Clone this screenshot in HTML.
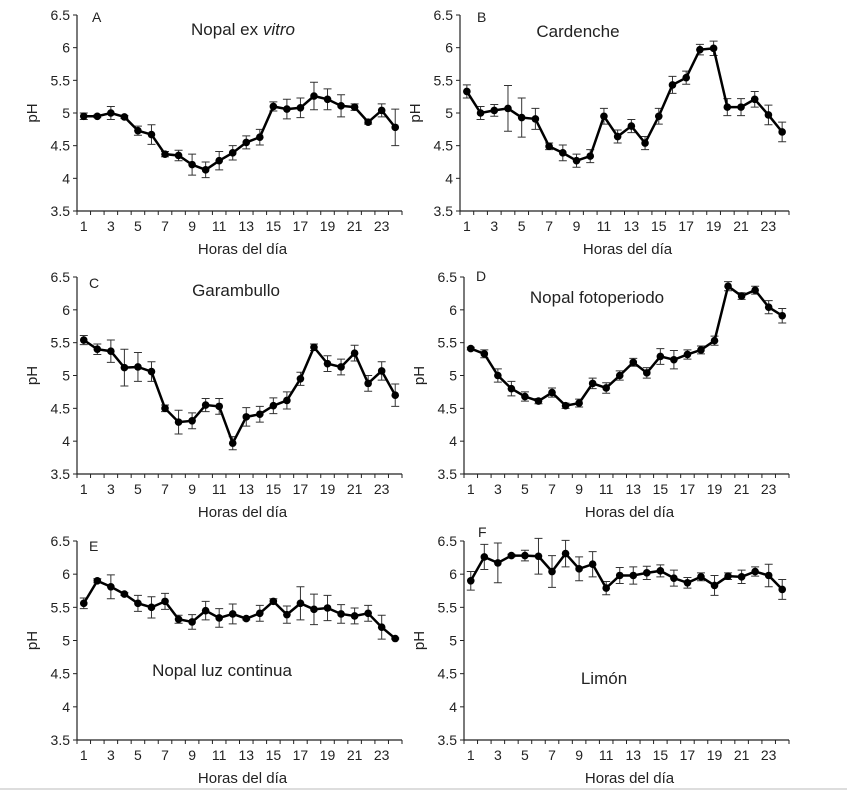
<!DOCTYPE html>
<html><head><meta charset="utf-8"><style>
html,body{margin:0;padding:0;background:#fff;}
svg{display:block;font-family:"Liberation Sans","DejaVu Sans",sans-serif;}
</style></head><body>
<svg id="fig" width="847" height="791" viewBox="0 0 847 791">
<line x1="0" y1="789" x2="847" y2="789" stroke="#bbb" stroke-width="1"/>
</svg>
<script>
const hours = [1,2,3,4,5,6,7,8,9,10,11,12,13,14,15,16,17,18,19,20,21,22,23,24];
const yTicks = [3.5,4,4.5,5,5.5,6,6.5];
const yTickLabels = ["3.5","4","4.5","5","5.5","6","6.5"];
const xTickLabels = ["1","3","5","7","9","11","13","15","17","19","21","23"];
const valsA = [4.95,4.95,5.0,4.94,4.73,4.67,4.37,4.35,4.21,4.13,4.27,4.39,4.55,4.63,5.1,5.06,5.08,5.26,5.21,5.11,5.09,4.86,5.04,4.78];
const errA = [.05,.02,.1,.02,.07,.15,.04,.08,.16,.12,.14,.11,.1,.12,.07,.15,.15,.21,.16,.17,.05,.03,.1,.28];
const valsB = [5.33,5.0,5.04,5.07,4.93,4.91,4.49,4.39,4.27,4.34,4.95,4.64,4.8,4.54,4.95,5.43,5.54,5.97,5.99,5.09,5.09,5.21,4.97,4.71];
const errB = [.1,.1,.09,.35,.3,.16,.05,.12,.1,.1,.12,.1,.1,.1,.12,.13,.1,.08,.11,.13,.13,.12,.15,.15];
const valsC = [5.54,5.4,5.37,5.12,5.13,5.06,4.5,4.29,4.31,4.55,4.53,3.97,4.37,4.41,4.54,4.62,4.95,5.43,5.18,5.13,5.34,4.88,5.07,4.7];
const errC = [.07,.08,.17,.28,.22,.15,.05,.18,.12,.1,.12,.1,.14,.12,.12,.13,.1,.05,.12,.12,.12,.12,.14,.17];
const valsD = [5.41,5.33,5.0,4.8,4.68,4.61,4.74,4.54,4.58,4.88,4.81,5.0,5.2,5.04,5.29,5.24,5.32,5.39,5.53,6.36,6.21,6.3,6.04,5.91];
const errD = [.02,.06,.1,.11,.07,.04,.07,.04,.06,.08,.08,.07,.06,.08,.12,.14,.07,.06,.07,.07,.05,.06,.1,.11];
const valsE = [5.56,5.9,5.81,5.7,5.56,5.5,5.59,5.32,5.28,5.45,5.34,5.4,5.33,5.41,5.59,5.39,5.56,5.47,5.49,5.4,5.37,5.41,5.2,5.03];
const errE = [.08,.03,.18,.02,.12,.16,.12,.06,.11,.14,.14,.15,.02,.12,.04,.13,.25,.23,.19,.14,.12,.12,.18,.01];
const valsF = [5.9,6.26,6.17,6.28,6.28,6.27,6.04,6.31,6.08,6.15,5.79,5.98,5.98,6.02,6.05,5.94,5.87,5.96,5.83,5.97,5.96,6.04,5.98,5.77];
const errF = [.14,.19,.3,.02,.08,.27,.24,.2,.18,.19,.1,.12,.13,.1,.09,.12,.08,.06,.15,.05,.1,.07,.17,.15];

const svg = document.getElementById('fig');
const NS = 'http://www.w3.org/2000/svg';
function mk(tag, attrs, parent){const e=document.createElementNS(NS,tag);for(const k in attrs)e.setAttribute(k,attrs[k]);(parent||svg).appendChild(e);return e;}

const panels = [
 {id:'a',x0:77,x1:402,top:15,bot:211,vals:valsA,errs:errA,letter:'A',lx:92,ly:22,title:'Nopal ex vitro',tx:243,ty:35,italic:true},
 {id:'b',x0:460,x1:789,top:15,bot:211,vals:valsB,errs:errB,letter:'B',lx:477,ly:22,title:'Cardenche',tx:578,ty:37},
 {id:'c',x0:77,x1:402,top:277,bot:474,vals:valsC,errs:errC,letter:'C',lx:89,ly:288,title:'Garambullo',tx:236,ty:296},
 {id:'d',x0:464,x1:789,top:277,bot:474,vals:valsD,errs:errD,letter:'D',lx:476,ly:281,title:'Nopal fotoperiodo',tx:597,ty:303},
 {id:'e',x0:77,x1:402,top:541,bot:740,vals:valsE,errs:errE,letter:'E',lx:89,ly:551,title:'Nopal luz continua',tx:222,ty:676},
 {id:'f',x0:464,x1:789,top:541,bot:740,vals:valsF,errs:errF,letter:'F',lx:478,ly:537,title:'Limón',tx:604,ty:684}
];

panels.forEach(p=>{
 const g = mk('g',{});
 
 
 const n = hours.length;
 const step = (p.x1-p.x0)/n;
 const xs = h => p.x0 + (h-0.5)*step;
 const ys = v => p.bot - (v-3.5)/3*(p.bot-p.top);
 const ax = mk('path',{d:`M${p.x0},${p.top} V${p.bot} H${p.x1}`,fill:'none',stroke:'#222','stroke-width':1.2},g);
 
 
 yTicks.forEach((t,i)=>{
  const y=ys(t);
  mk('line',{x1:p.x0-4,y1:y,x2:p.x0,y2:y,stroke:'#222'},g);
  const tl=mk('text',{x:p.x0-7,y:y+5,'text-anchor':'end','font-size':14,fill:'#222'},g);
  tl.textContent=yTickLabels[i];
  
  
 });
 for(let i=0;i<=n;i++){const x=p.x0+i*step;mk('line',{x1:x,y1:p.bot,x2:x,y2:p.bot+4,stroke:'#222'},g);}
 xTickLabels.forEach(l=>{
  const tl=mk('text',{x:xs(+l),y:p.bot+20,'text-anchor':'middle','font-size':14,fill:'#222'},g);
  tl.textContent=l;
  
  
 });
 const xt=mk('text',{x:(p.x0+p.x1)/2+3,y:p.bot+43,'text-anchor':'middle','font-size':15,fill:'#222'},g);
 xt.textContent='Horas del día';
 
 
 const yt=mk('text',{x:0,y:0,'text-anchor':'middle','font-size':15,fill:'#222',transform:`translate(${p.x0-40},${(p.top+p.bot)/2}) rotate(-90)`},g);
 yt.textContent='pH';
 
 
 const lt=mk('text',{x:p.lx,y:p.ly,'font-size':14,fill:'#222'},g);
 lt.textContent=p.letter;
 
 
 const tt=mk('text',{x:p.tx,y:p.ty,'text-anchor':'middle','font-size':17,fill:'#222'},g);
 if(p.italic){tt.textContent='Nopal ex ';const ts=mk('tspan',{'font-style':'italic'},tt);ts.textContent='vitro';}
 else tt.textContent=p.title;
 
 
 p.vals.forEach((v,i)=>{
  const x=xs(hours[i]),e=p.errs[i];
  const eb=mk('path',{d:`M${x},${ys(v+e)} V${ys(v-e)} M${x-4},${ys(v+e)} H${x+4} M${x-4},${ys(v-e)} H${x+4}`,stroke:'#333','stroke-width':1,fill:'none'},g);
  
  
 });
 const line=mk('polyline',{points:p.vals.map((v,i)=>xs(hours[i])+','+ys(v)).join(' '),fill:'none',stroke:'#000','stroke-width':2.5},g);
 
 
 p.vals.forEach((v,i)=>{
  const c=mk('circle',{cx:xs(hours[i]),cy:ys(v),r:3.8,fill:'#000'},g);
  
  
 });
});
</script>
</body></html>
